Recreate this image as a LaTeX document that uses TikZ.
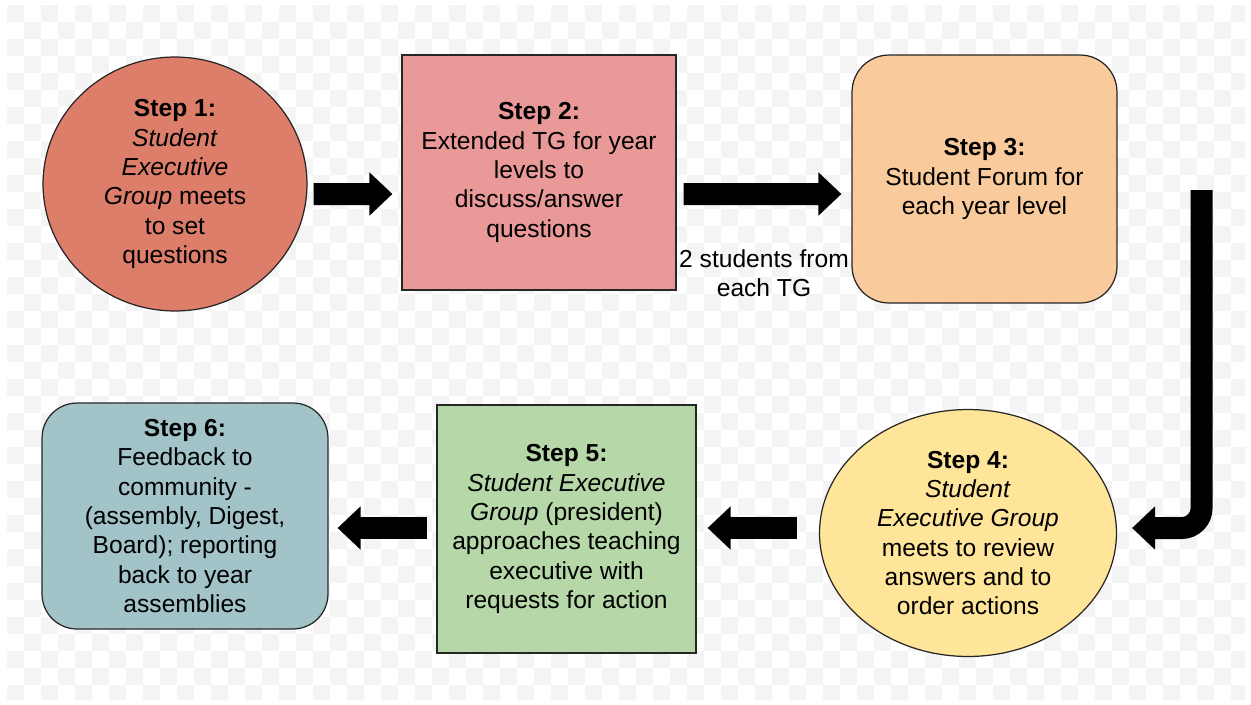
\documentclass[tikz,border=0pt]{standalone}
\usepackage{fontspec}
\setmainfont{Liberation Sans}
\usetikzlibrary{shapes,arrows.meta}

\definecolor{checker}{HTML}{F4F4F4}
\definecolor{redberry}{HTML}{DD7E6B}
\definecolor{lightred}{HTML}{EA9999}
\definecolor{lightorange}{HTML}{F9CB9C}
\definecolor{lightyellow}{HTML}{FFE599}
\definecolor{lightgreen}{HTML}{B6D7A8}
\definecolor{lightcyan}{HTML}{A2C4C9}

\begin{document}
\begin{tikzpicture}[x=0.02cm, y=-0.02cm]
\tikzstyle{every node}=[font=\fontsize{14}{16.7}\selectfont, align=center, inner sep=0pt];
\tikzstyle{stepshape}=[draw=black!85, line width=0.7pt];
\tikzstyle{blockarrow}=[line width=0.44cm, -{Triangle[length=0.46cm, width=0.84cm]}];

\useasboundingbox (0,0) rectangle (1251,704);

% checkered backdrop
\begin{scope}
\clip (7,5) rectangle (1245,699);
\foreach \i in {0,...,72}
  \foreach \j in {0,...,40} {
    \pgfmathtruncatemacro\odd{mod(\i+\j,2)}
    \ifnum\odd=0 \fill[checker] (7+17*\i,5+17*\j) rectangle ++(17,17); \fi
  }
\end{scope}

% top row
\node[stepshape, ellipse, fill=redberry, minimum width=5.28cm, minimum height=5.08cm] (s1) at (175,184)
  {\textbf{Step 1:}\\\textit{Student}\\\textit{Executive}\\\textit{Group} meets\\to set\\questions};
\node[stepshape, rectangle, fill=lightred, minimum width=5.48cm, minimum height=4.7cm] (s2) at (539,172.5)
  {\textbf{Step 2:}\\Extended TG for year\\levels to\\discuss/answer\\questions};
\node[stepshape, rectangle, rounded corners=0.74cm, fill=lightorange, minimum width=5.3cm, minimum height=4.96cm] (s3) at (984.5,179)
  {\textbf{Step 3:}\\Student Forum for\\each year level};

% bottom row
\node[stepshape, ellipse, fill=lightyellow, minimum width=5.94cm, minimum height=4.94cm] (s4) at (968,533)
  {\textbf{Step 4:}\\\textit{Student}\\\textit{Executive Group}\\meets to review\\answers and to\\order actions};
\node[stepshape, rectangle, fill=lightgreen, minimum width=5.18cm, minimum height=4.96cm] (s5) at (566.5,529)
  {\textbf{Step 5:}\\\textit{Student Executive}\\\textit{Group} (president)\\approaches teaching\\executive with\\requests for action};
\node[stepshape, rectangle, rounded corners=0.7cm, fill=lightcyan, minimum width=5.72cm, minimum height=4.52cm] (s6) at (185,516)
  {\textbf{Step 6:}\\Feedback to\\community -\\(assembly, Digest,\\Board); reporting\\back to year\\assemblies};

\node (note) at (764,273.5) {2 students from\\each TG};

% block arrows
\draw[blockarrow] ([shift={(6,10)}]s1.east) -- ([shift={(-9,21.5)}]s2.west);
\draw[blockarrow] ([shift={(7,21.5)}]s2.east) -- ([shift={(-10,15)}]s3.west);
\draw[blockarrow, rounded corners=0.4cm] ([shift={(84,11)}]s3.east) |- ([shift={(15,-5)}]s4.east);
\draw[blockarrow] ([shift={(-22,-5)}]s4.west) -- ([shift={(11,-1)}]s5.east);
\draw[blockarrow] ([shift={(-9,-1)}]s5.west) -- ([shift={(9,12)}]s6.east);

\end{tikzpicture}
\end{document}
